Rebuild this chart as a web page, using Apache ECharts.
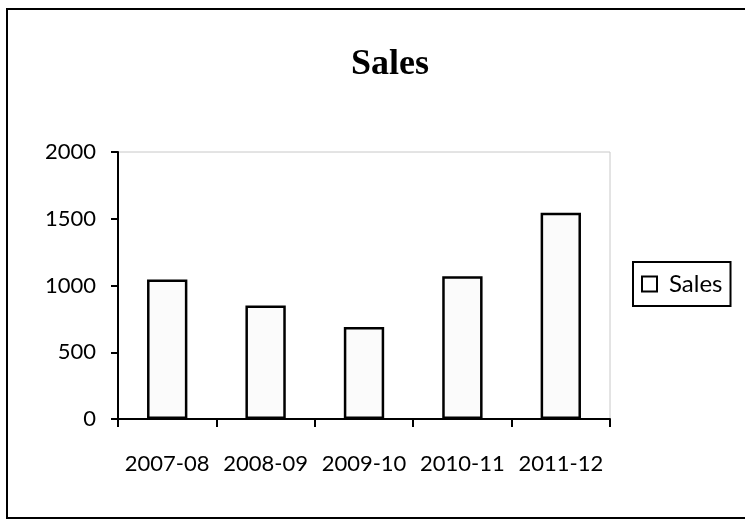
<!DOCTYPE html>
<html>
<head>
<meta charset="utf-8">
<script src="https://cdn.jsdelivr.net/npm/echarts@6/dist/echarts.min.js"></script>
<style>
  html, body { margin: 0; padding: 0; background: #fff; }
  #chart { width: 745px; height: 520px; }
</style>
</head>
<body>
<div id="chart"></div>
<script>
var categories = ['2007-08', '2008-09', '2009-10', '2010-11', '2011-12'];
var salesValues = [1045, 850, 690, 1070, 1545];
var yTicks = [0, 500, 1000, 1500, 2000];

var chart = echarts.init(document.getElementById('chart'));

var option = {
    backgroundColor: '#fff',
    // outer frame of the picture
    graphic: [{
        type: 'rect',
        shape: { x: 7, y: 9, width: 745, height: 509 },
        style: { fill: 'none', stroke: '#000', lineWidth: 2 },
        silent: true
    }],
    title: {
        text: 'Sales',
        left: 385,
        top: 42,
        textAlign: 'center',
        textStyle: {
            fontFamily: 'Liberation Serif',
            fontWeight: 'bold',
            fontSize: 36,
            color: '#000'
        }
    },
    legend: {
        data: ['Sales'],
        orient: 'vertical',
        left: 633,
        top: 262,
        padding: [10, 8, 10, 8],
        borderColor: '#000',
        borderWidth: 2,
        itemWidth: 15,
        itemHeight: 15,
        icon: 'rect',
        itemStyle: { color: '#fff', borderColor: '#000', borderWidth: 2 },
        textStyle: { fontFamily: 'Lato', fontSize: 24, color: '#000', padding: [0, 0, 0, 7] }
    },
    grid: {
        left: 118,
        right: 135,
        top: 152,
        bottom: 101,
        show: true,
        borderColor: '#c8c8c8',
        borderWidth: 1
    },
    xAxis: {
        type: 'category',
        data: categories,
        axisLine: { lineStyle: { color: '#000', width: 2 } },
        axisTick: { show: true, interval: 0, length: 8, inside: false, lineStyle: { color: '#000', width: 2 } },
        axisLabel: { interval: 0, hideOverlap: false, fontFamily: 'Lato', fontSize: 22, color: '#000', margin: 34 }
    },
    yAxis: {
        type: 'value',
        min: 0,
        max: 2000,
        interval: 500,
        axisLine: { show: true, lineStyle: { color: '#000', width: 2 } },
        axisTick: { show: true, length: 7, lineStyle: { color: '#000', width: 2 } },
        splitLine: { show: false },
        axisLabel: {
            fontFamily: 'Lato', fontSize: 22, color: '#000', margin: 22,
            formatter: function (v) { return yTicks.indexOf(v) >= 0 ? String(v) : ''; }
        }
    },
    series: [{
        name: 'Sales',
        type: 'bar',
        data: salesValues,
        barWidth: '41%',
        itemStyle: { color: '#fbfbfb', borderColor: '#000', borderWidth: 2.5 }
    }]
};

chart.setOption(option);
</script>
</body>
</html>
